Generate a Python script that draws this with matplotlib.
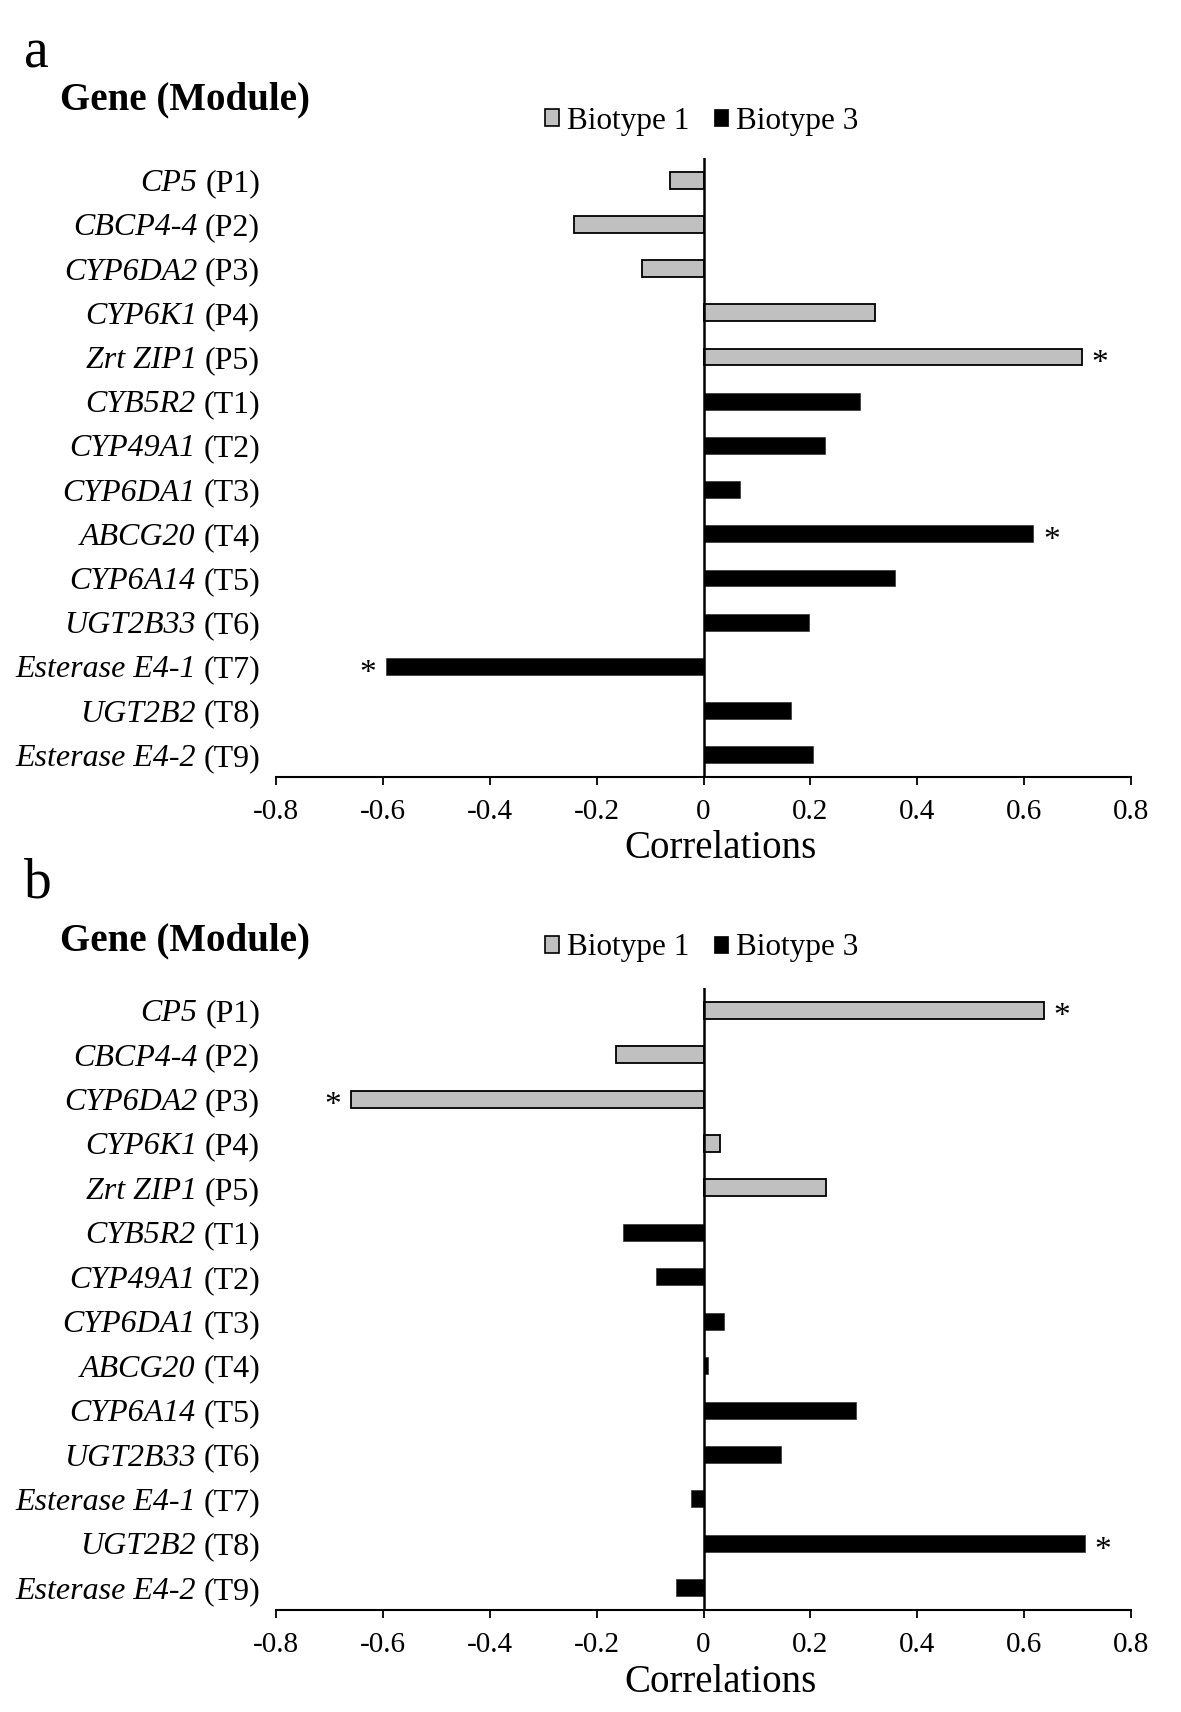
import matplotlib.pyplot as plt
from matplotlib.patches import Patch

plt.rcParams['font.family'] = ['Liberation Serif', 'DejaVu Serif']

# genes and their co-expression modules (same for both panels)
genes = ["CP5", "CBCP4-4", "CYP6DA2", "CYP6K1", "Zrt ZIP1",
         "CYB5R2", "CYP49A1", "CYP6DA1", "ABCG20", "CYP6A14",
         "UGT2B33", "Esterase E4-1", "UGT2B2", "Esterase E4-2"]
modules = ["P1", "P2", "P3", "P4", "P5",
           "T1", "T2", "T3", "T4", "T5", "T6", "T7", "T8", "T9"]
biotypes = [1, 1, 1, 1, 1, 3, 3, 3, 3, 3, 3, 3, 3, 3]

# panel a correlations
corr_a = [-0.062, -0.242, -0.115, 0.320, 0.708,
          0.293, 0.228, 0.069, 0.617, 0.358, 0.198, -0.595, 0.164, 0.204]
sig_a = [False, False, False, False, True,
         False, False, False, True, False, False, True, False, False]

# panel b correlations
corr_b = [0.637, -0.164, -0.660, 0.031, 0.230,
          -0.150, -0.088, 0.039, 0.009, 0.286, 0.145, -0.024, 0.713, -0.052]
sig_b = [True, False, True, False, False,
         False, False, False, False, False, False, False, True, False]

colors = {1: "#c0c0c0", 3: "#000000"}
W, H = 1181, 1712

fig = plt.figure(figsize=(W / 100, H / 100), dpi=100)


def draw_panel(top_px, bottom_px, values, stars):
    left, right = 276, 1131
    ax = fig.add_axes([left / W, 1 - bottom_px / H, (right - left) / W, (bottom_px - top_px) / H])
    n = len(values)
    for i, v in enumerate(values):
        bt = biotypes[i]
        ax.barh(i, v, height=0.38, color=colors[bt],
                edgecolor="black" if bt == 1 else "#333333", linewidth=1.3 if bt == 1 else 0.5,
                zorder=2)
        if stars[i]:
            dx = 13 if v > 0 else -13
            ax.annotate("*", xy=(v, i), xytext=(dx, -5), textcoords="offset points",
                        ha="center", va="center", fontsize=24)
    ax.set_xlim(-0.8, 0.8)
    ax.set_ylim(n - 0.5, -0.5)
    ax.axvline(0, color="black", lw=1.8, zorder=3)
    for s in ["left", "right", "top"]:
        ax.spines[s].set_visible(False)
    ax.spines["bottom"].set_linewidth(1.5)
    ax.set_yticks([])
    ticks = [-0.8, -0.6, -0.4, -0.2, 0, 0.2, 0.4, 0.6, 0.8]
    ax.set_xticks(ticks)
    ax.set_xticklabels(["0" if t == 0 else f"{t:.1f}" for t in ticks])
    ax.tick_params(axis="x", direction="out", length=6, width=1.3, labelsize=21, pad=10)

    for i, (g, m) in enumerate(zip(genes, modules)):
        mod = ax.annotate(f"({m})", xy=(0, i), xycoords=("axes fraction", "data"),
                          xytext=(-11.5, 0), textcoords="offset points",
                          ha="right", va="center_baseline", fontsize=23)
        ax.annotate(g, xy=(0, i), xycoords=(mod, "data"),
                    xytext=(-5.5, 0), textcoords="offset points",
                    ha="right", va="center_baseline", fontsize=23, style="italic")

    fig.text(720 / W, 1 - (bottom_px + 72) / H, "Correlations", ha="center", va="center", fontsize=28)
    return ax


def header(letter, letter_base, gene_base, legend_y):
    fig.text(24 / W, 1 - letter_base / H, letter, fontsize=40, va="baseline")
    fig.text(60 / W, 1 - gene_base / H, "Gene (Module)", fontsize=28, fontweight="bold", va="baseline")
    handles = [Patch(facecolor=colors[1], edgecolor="black", linewidth=1.2, label="Biotype 1"),
               Patch(facecolor=colors[3], edgecolor="black", linewidth=0.5, label="Biotype 3")]
    fig.legend(handles=handles, loc="center left", bbox_to_anchor=(545 / W, 1 - legend_y / H),
               ncol=2, frameon=False, fontsize=22.5, handlelength=0.45, handleheight=0.45,
               handletextpad=0.25, columnspacing=0.8, borderpad=0, borderaxespad=0)


header("a", 68, 109, 121)
draw_panel(158, 777, corr_a, sig_a)
header("b", 897, 950, 948)
draw_panel(988, 1610, corr_b, sig_b)

fig.savefig("out.png", dpi=100)
